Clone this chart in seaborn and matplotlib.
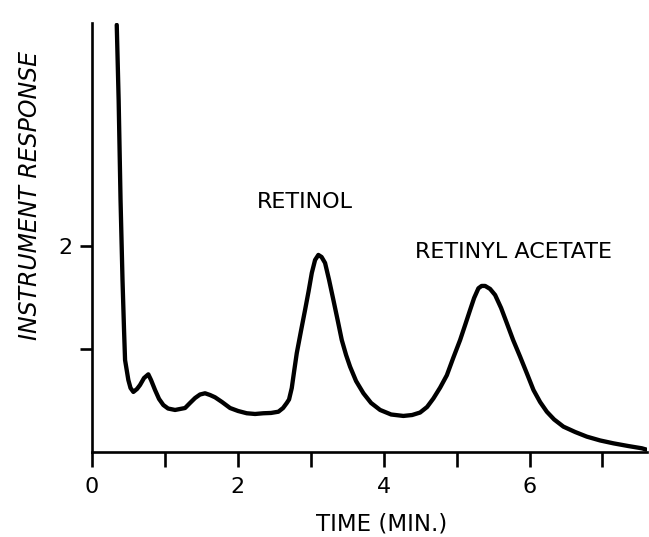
import matplotlib
matplotlib.use("Agg")
import matplotlib.pyplot as plt
import seaborn as sns
import pandas as pd

# Chromatogram trace: retention time (min) vs detector response
time_min = [0.339, 0.365, 0.391, 0.418, 0.439, 0.453, 0.498, 0.528, 0.567, 0.617,
            0.658, 0.713, 0.772, 0.809, 0.864, 0.919, 0.978, 1.043, 1.139, 1.276,
            1.344, 1.413, 1.481, 1.550, 1.619, 1.687, 1.783, 1.893, 2.003, 2.122,
            2.236, 2.350, 2.455, 2.556, 2.620, 2.671, 2.702, 2.739, 2.771, 2.808,
            2.867, 2.922, 2.970, 3.014, 3.059, 3.104, 3.148, 3.196, 3.251, 3.310,
            3.368, 3.425, 3.484, 3.539, 3.621, 3.722, 3.827, 3.951, 4.102, 4.270,
            4.390, 4.499, 4.595, 4.682, 4.774, 4.866, 4.952, 5.048, 5.117, 5.185,
            5.240, 5.299, 5.343, 5.391, 5.459, 5.528, 5.610, 5.689, 5.775, 5.871,
            5.967, 6.054, 6.145, 6.237, 6.337, 6.465, 6.626, 6.786, 6.968, 7.151,
            7.353, 7.540, 7.599]
response = [4.146, 3.417, 2.447, 1.670, 1.184, 0.893, 0.699, 0.621, 0.583, 0.612,
            0.650, 0.718, 0.754, 0.699, 0.602, 0.515, 0.456, 0.422, 0.408, 0.427,
            0.476, 0.524, 0.558, 0.570, 0.553, 0.531, 0.485, 0.427, 0.398, 0.376,
            0.369, 0.376, 0.379, 0.391, 0.427, 0.476, 0.510, 0.620, 0.780, 0.960,
            1.180, 1.380, 1.560, 1.738, 1.864, 1.913, 1.893, 1.835, 1.670, 1.476,
            1.282, 1.087, 0.942, 0.828, 0.689, 0.570, 0.476, 0.408, 0.364, 0.350,
            0.359, 0.383, 0.437, 0.520, 0.625, 0.745, 0.910, 1.087, 1.233, 1.379,
            1.495, 1.589, 1.612, 1.612, 1.583, 1.524, 1.398, 1.250, 1.087, 0.925,
            0.757, 0.602, 0.485, 0.391, 0.316, 0.246, 0.194, 0.149, 0.112, 0.084,
            0.058, 0.036, 0.024]

x_ticks = [0, 1, 2, 3, 4, 5, 6, 7]
x_tick_labels = ["0", "", "2", "", "4", "", "6", ""]
y_ticks = [1, 2]
y_tick_labels = ["", "2"]

peak_names = ["RETINOL", "RETINYL ACETATE"]
peak_label_x = [2.92, 5.78]
peak_label_y = [2.43, 1.945]

sns.set_theme(style="ticks")
plt.rcParams["font.family"] = ["DejaVu Sans"]

df = pd.DataFrame({"time": time_min, "response": response})

fig = plt.figure(figsize=(6.49, 5.37), dpi=100)
ax = fig.add_axes([0.1418, 0.1583, 0.855, 0.799])

sns.lineplot(data=df, x="time", y="response", ax=ax, color="black",
             linewidth=3.1, sort=False, estimator=None,
             solid_joinstyle="round", solid_capstyle="round")

ax.set_xlim(0, 7.61)
ax.set_ylim(0, 4.165)
ax.set_xticks(x_ticks)
ax.set_xticklabels(x_tick_labels)
ax.set_yticks(y_ticks)
ax.set_yticklabels(y_tick_labels)

for side in ("top", "right"):
    ax.spines[side].set_visible(False)
for side in ("left", "bottom"):
    ax.spines[side].set_linewidth(1.9)
    ax.spines[side].set_color("black")

ax.tick_params(axis="x", direction="out", length=11, width=1.9, pad=7,
               labelsize=16, colors="black")
ax.tick_params(axis="y", direction="out", length=9, width=1.9, pad=5,
               labelsize=16, colors="black")
ax.set_xlabel("")
ax.set_ylabel("")

for name, tx, ty in zip(peak_names, peak_label_x, peak_label_y):
    ax.text(tx, ty, name, ha="center", va="center", fontsize=16, color="black")

fig.text(382 / 649, (537 - 524) / 537, "TIME (MIN.)", ha="center", va="center",
         fontsize=16.5, color="black")
fig.text(30 / 649, (537 - 196) / 537, "INSTRUMENT RESPONSE", ha="center",
         va="center", rotation=90, fontsize=17, style="italic", color="black")

fig.savefig("out.png", dpi=100, facecolor="white")
